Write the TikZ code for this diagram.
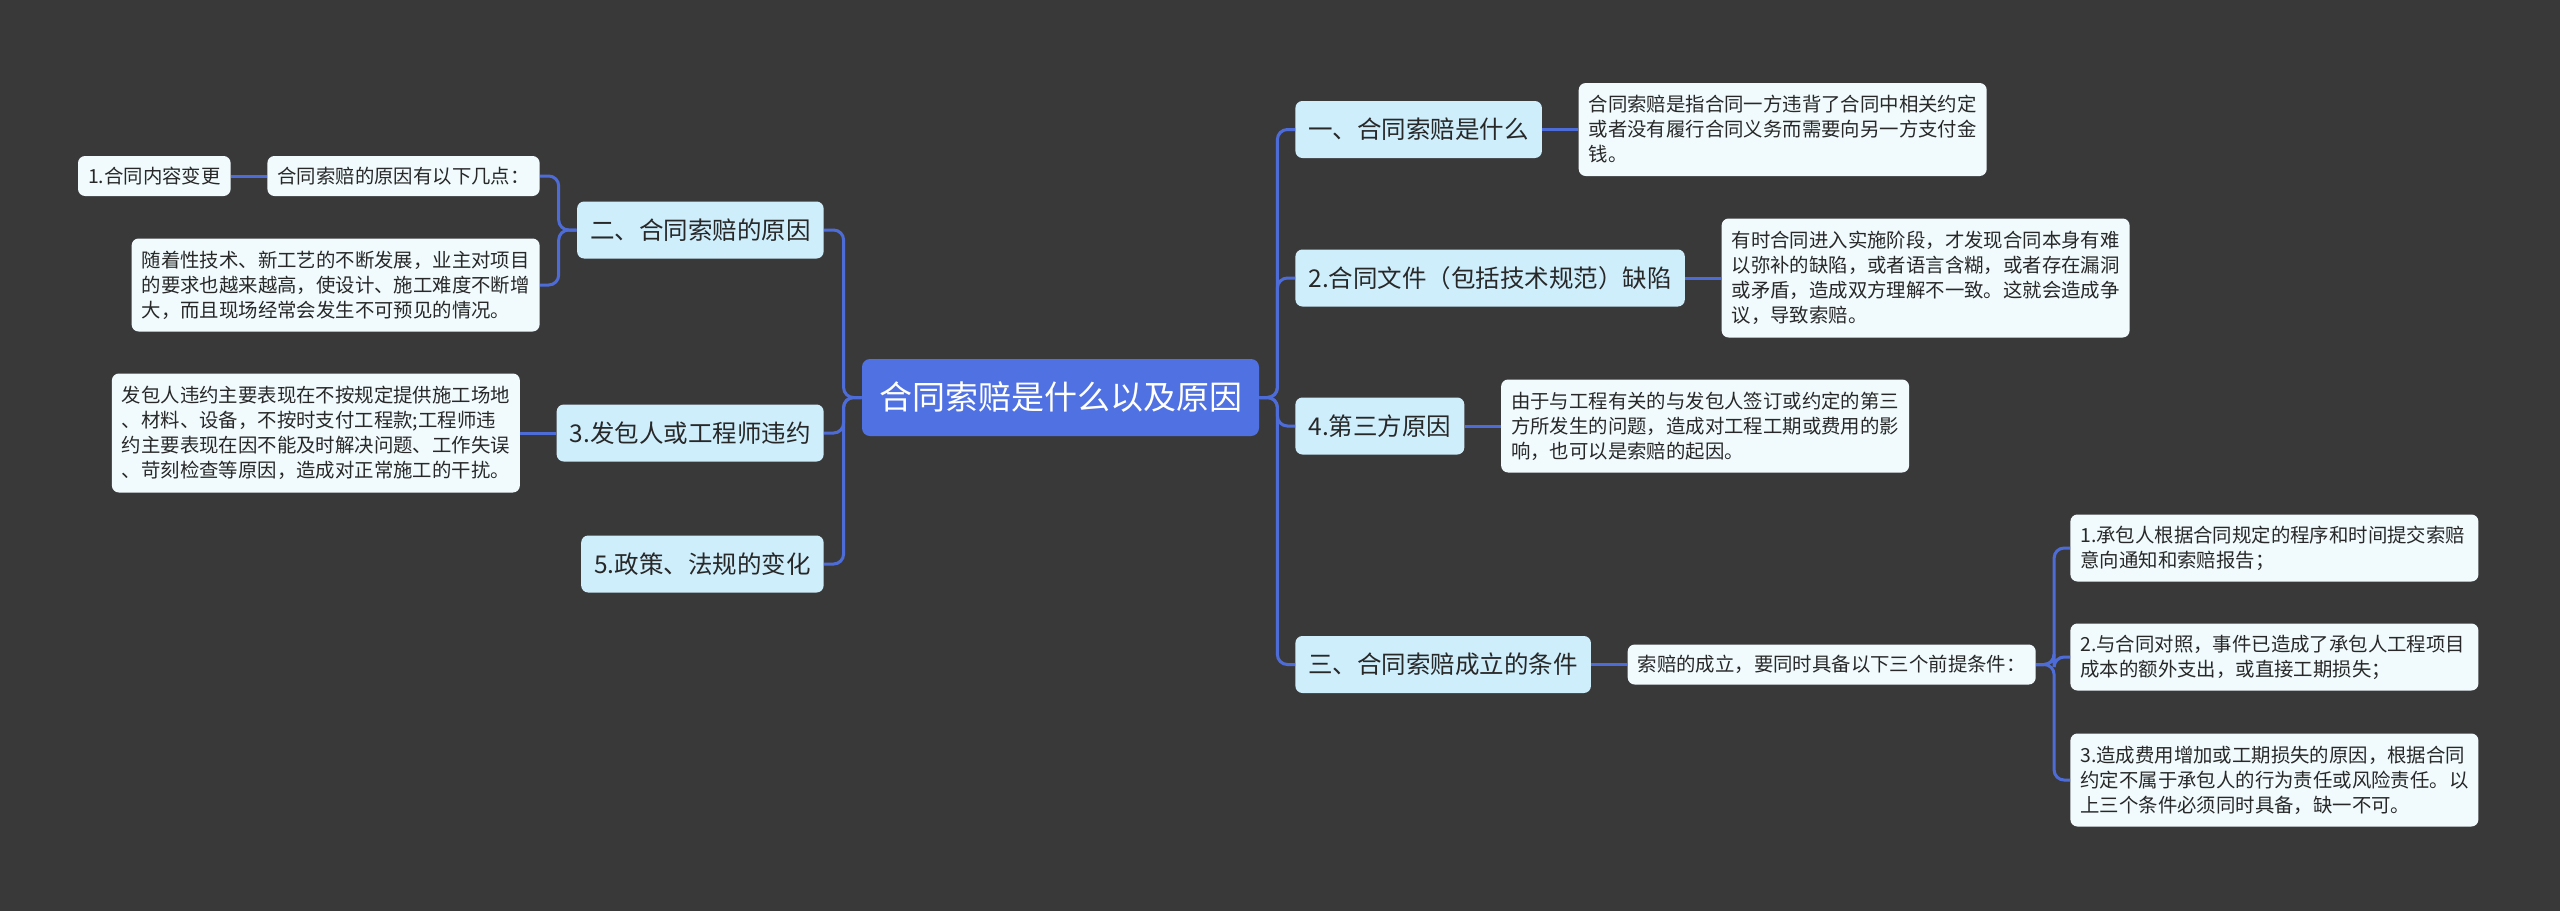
\documentclass[tikz,border=0pt]{standalone}
\usepackage{fontspec}
\setmainfont{Noto Sans CJK SC}
\usetikzlibrary{positioning}
\definecolor{bg}{RGB}{58,57,58}
\definecolor{rootfill}{RGB}{80,113,226}
\definecolor{lonefill}{RGB}{206,238,252}
\definecolor{leaffill}{RGB}{241,251,253}
\definecolor{conncol}{RGB}{78,108,216}
\definecolor{txt}{RGB}{40,40,40}
\begin{document}
\begin{tikzpicture}[x=0.5pt,y=-0.5pt,
  rootbox/.style={fill=rootfill, rounded corners=4pt, text=white, font=\fontsize{16.5}{20}\selectfont, inner xsep=8.5pt, minimum height=38.5pt},
  lonebox/.style={fill=lonefill, rounded corners=3.5pt, text=txt, font=\fontsize{12.25}{15}\selectfont, inner xsep=6.5pt, minimum height=28.5pt},
  leafbox/.style={fill=leaffill, rounded corners=3.5pt, text=txt, font=\fontsize{9.7}{12.5}\selectfont, inner xsep=5pt, inner ysep=2pt, align=left},
  hone/.style={minimum height=20pt},
  htwo/.style={minimum height=33.5pt},
  hthree/.style={minimum height=46.5pt},
  hfour/.style={minimum height=59.5pt},
  conn/.style={draw=conncol, line width=1.5pt, rounded corners=5pt},
]
\fill[bg] (0,0) rectangle (2560,911);
\useasboundingbox (0,0) rectangle (2560,911);

% root
\node[rootbox] (root) at (1060.5,397.5) {合同索赔是什么以及原因};

% right side level 1
\node[lonebox, anchor=west] (A) at (1295,129.5) {一、合同索赔是什么};
\node[lonebox, anchor=west] (B) at (1295,278) {2.合同文件（包括技术规范）缺陷};
\node[lonebox, anchor=west] (C) at (1295,426) {4.第三方原因};
\node[lonebox, anchor=west] (D) at (1295,664.5) {三、合同索赔成立的条件};

% right side level 2
\node[leafbox, hthree, right=18pt of A] (A1) {合同索赔是指合同一方违背了合同中相关约定\\或者没有履行合同义务而需要向另一方支付金\\钱。};
\node[leafbox, hfour, right=18pt of B] (B1) {有时合同进入实施阶段，才发现合同本身有难\\以弥补的缺陷，或者语言含糊，或者存在漏洞\\或矛盾，造成双方理解不一致。这就会造成争\\议，导致索赔。};
\node[leafbox, hthree, right=18pt of C] (C1) {由于与工程有关的与发包人签订或约定的第三\\方所发生的问题，造成对工程工期或费用的影\\响，也可以是索赔的起因。};
\node[leafbox, hone, right=18pt of D] (D1) {索赔的成立，要同时具备以下三个前提条件：};

\node[leafbox, htwo, text width=194pt, anchor=west] (D2a) at (2070,548) {1.承包人根据合同规定的程序和时间提交索赔\\意向通知和索赔报告；};
\node[leafbox, htwo, text width=194pt, anchor=west] (D2b) at (2070,657) {2.与合同对照，事件已造成了承包人工程项目\\成本的额外支出，或直接工期损失；};
\node[leafbox, hthree, text width=194pt, anchor=west] (D2c) at (2070,780) {3.造成费用增加或工期损失的原因，根据合同\\约定不属于承包人的行为责任或风险责任。以\\上三个条件必须同时具备，缺一不可。};

% left side level 1
\node[lonebox, anchor=east] (E) at (824,230) {二、合同索赔的原因};
\node[lonebox, anchor=east] (F) at (824,433) {3.发包人或工程师违约};
\node[lonebox, anchor=east] (G) at (824,564) {5.政策、法规的变化};

% left side level 2
\node[leafbox, hone, anchor=east] (E1) at (540,176) {合同索赔的原因有以下几点：};
\node[leafbox, hone, left=18pt of E1] (E1a) {1.合同内容变更};
\node[leafbox, hthree, anchor=east] (E2) at (540,285) {随着性技术、新工艺的不断发展，业主对项目\\的要求也越来越高，使设计、施工难度不断增\\大，而且现场经常会发生不可预见的情况。};
\node[leafbox, hfour, left=18pt of F] (F1) {发包人违约主要表现在不按规定提供施工场地\\、材料、设备，不按时支付工程款;工程师违\\约主要表现在因不能及时解决问题、工作失误\\、苛刻检查等原因，造成对正常施工的干扰。};

% connectors: root to right
\foreach \n in {A,B,C,D}{
  \draw[conn] (root.east) -- ++(9pt,0) |- (\n.west);
}
% root to left
\foreach \n in {E,F,G}{
  \draw[conn] (root.west) -- ++(-9pt,0) |- (\n.east);
}
% right straight links
\draw[conn] (A.east) -- (A1.west);
\draw[conn] (B.east) -- (B1.west);
\draw[conn] (C.east) -- (C1.west);
\draw[conn] (D.east) -- (D1.west);
\foreach \n in {D2a,D2b,D2c}{
  \draw[conn] (D1.east) -- ++(9pt,0) |- (\n.west);
}
% left links
\foreach \n in {E1,E2}{
  \draw[conn] (E.west) -- ++(-9pt,0) |- (\n.east);
}
\draw[conn] (E1.west) -- (E1a.east);
\draw[conn] (F.west) -- (F1.east);
\end{tikzpicture}
\end{document}
